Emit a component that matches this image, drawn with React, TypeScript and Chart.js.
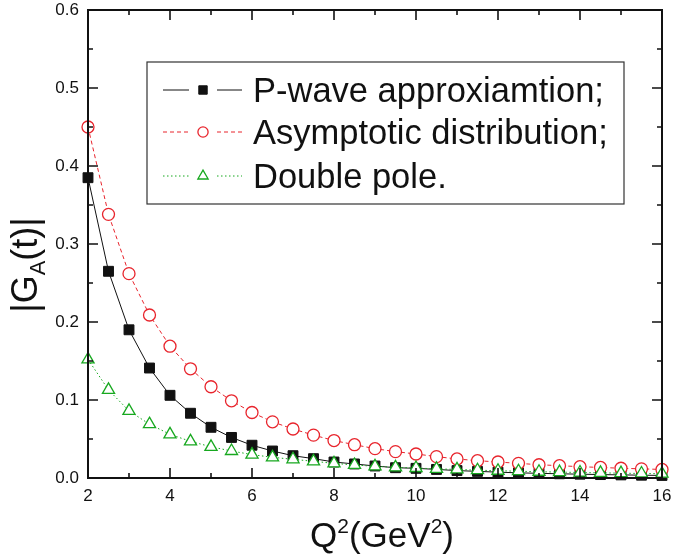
import React, { useEffect, useRef } from "react";
import { Chart, registerables } from "chart.js";

Chart.register(...registerables);

// Q^2 values (GeV^2)
const q2Values = [2, 2.5, 3, 3.5, 4, 4.5, 5, 5.5, 6, 6.5, 7, 7.5, 8, 8.5, 9, 9.5, 10, 10.5, 11, 11.5, 12, 12.5, 13, 13.5, 14, 14.5, 15, 15.5, 16];

// |G_A(t)| for each model
const pWave = [0.385, 0.265, 0.19, 0.141, 0.106, 0.083, 0.065, 0.052, 0.042, 0.0346, 0.0286, 0.0248, 0.0205, 0.018, 0.0154, 0.0132, 0.0124, 0.011, 0.0095, 0.0085, 0.0075, 0.0066, 0.006, 0.0054, 0.0049, 0.0044, 0.004, 0.0036, 0.0033];
const asymptotic = [0.45, 0.338, 0.262, 0.209, 0.169, 0.14, 0.117, 0.099, 0.084, 0.072, 0.0628, 0.055, 0.048, 0.0427, 0.0376, 0.0338, 0.0308, 0.0274, 0.0244, 0.0222, 0.0205, 0.0188, 0.017, 0.0158, 0.0145, 0.0135, 0.0125, 0.0117, 0.011];
const doublePole = [0.152, 0.113, 0.086, 0.069, 0.056, 0.047, 0.04, 0.0346, 0.03, 0.0265, 0.024, 0.0214, 0.0188, 0.0167, 0.015, 0.0137, 0.0128, 0.0117, 0.011, 0.01, 0.0093, 0.0087, 0.008, 0.0076, 0.007, 0.0066, 0.0062, 0.0058, 0.0055];

const seriesLabels = ["P-wave approxiamtion;", "Asymptotic distribution;", "Double pole."];

const xMin = 2;
const xMax = 16;
const xStep = 2;
const yMin = 0;
const yMax = 0.6;
const yStep = 0.1;

const FONT = '"Liberation Sans", Arial, Helvetica, sans-serif';
const BLACK = "#111111";
const RED = "#e8242c";
const GREEN = "#17a81f";

const toPoints = (ys: number[]) => q2Values.map((x, i) => ({ x, y: ys[i] }));

// Frame around the plot with inward major/minor ticks on all four sides
const framePlugin = {
  id: "frameTicks",
  afterDatasetsDraw(chart: any) {
    const { ctx, chartArea: a, scales } = chart;
    const xs = scales.x;
    const ys = scales.y;
    ctx.save();
    ctx.strokeStyle = "#111";
    ctx.lineWidth = 1.6;
    const major = 10;
    const minor = 5;
    ctx.beginPath();
    const xt = xs.ticks.map((t: any) => t.value);
    xt.forEach((v: number, i: number) => {
      const px = xs.getPixelForValue(v);
      ctx.moveTo(px, a.bottom);
      ctx.lineTo(px, a.bottom - major);
      ctx.moveTo(px, a.top);
      ctx.lineTo(px, a.top + major);
      if (i < xt.length - 1) {
        const mp = xs.getPixelForValue((v + xt[i + 1]) / 2);
        ctx.moveTo(mp, a.bottom);
        ctx.lineTo(mp, a.bottom - minor);
        ctx.moveTo(mp, a.top);
        ctx.lineTo(mp, a.top + minor);
      }
    });
    const yt = ys.ticks.map((t: any) => t.value);
    yt.forEach((v: number, i: number) => {
      const py = ys.getPixelForValue(v);
      ctx.moveTo(a.left, py);
      ctx.lineTo(a.left + major, py);
      ctx.moveTo(a.right, py);
      ctx.lineTo(a.right - major, py);
      if (i < yt.length - 1) {
        const mp = ys.getPixelForValue((v + yt[i + 1]) / 2);
        ctx.moveTo(a.left, mp);
        ctx.lineTo(a.left + minor, mp);
        ctx.moveTo(a.right, mp);
        ctx.lineTo(a.right - minor, mp);
      }
    });
    ctx.stroke();
    ctx.lineWidth = 2;
    ctx.strokeRect(a.left, a.top, a.right - a.left, a.bottom - a.top);
    ctx.restore();
  },
};

// Axis titles with sub/superscripts
const titlePlugin = {
  id: "axisTitles",
  afterDraw(chart: any) {
    const { ctx, chartArea: a } = chart;
    ctx.save();
    ctx.fillStyle = "#111";
    ctx.textBaseline = "alphabetic";

    // x title: Q^2(GeV^2)
    const big = 35;
    const small = 21;
    const parts: [string, number, number][] = [
      ["Q", big, 0],
      ["2", small, -14],
      ["(GeV", big, 0],
      ["2", small, -14],
      [")", big, 0],
    ];
    let total = 0;
    parts.forEach(([t, s]) => {
      ctx.font = `${s}px ${FONT}`;
      total += ctx.measureText(t).width;
    });
    let x = 382 - total / 2;
    const baseY = 547;
    parts.forEach(([t, s, dy]) => {
      ctx.font = `${s}px ${FONT}`;
      ctx.fillText(t, x, baseY + dy);
      x += ctx.measureText(t).width;
    });

    // y title: |G_A(t)|
    const yb = 36;
    const ys = 22;
    const yparts: [string, number, number][] = [
      ["|G", yb, 0],
      ["A", ys, 8],
      ["(t)|", yb, 0],
    ];
    let ytotal = 0;
    yparts.forEach(([t, s]) => {
      ctx.font = `${s}px ${FONT}`;
      ytotal += ctx.measureText(t).width;
    });
    ctx.translate(37, 265);
    ctx.rotate(-Math.PI / 2);
    let yx = -ytotal / 2;
    yparts.forEach(([t, s, dy]) => {
      ctx.font = `${s}px ${FONT}`;
      ctx.fillText(t, yx, dy);
      yx += ctx.measureText(t).width;
    });
    ctx.restore();
  },
};

function drawMarker(ctx: CanvasRenderingContext2D, style: string, x: number, y: number, r: number) {
  ctx.beginPath();
  if (style === "rect") {
    const s = r * Math.SQRT1_2;
    ctx.rect(x - s, y - s, 2 * s, 2 * s);
  } else if (style === "triangle") {
    for (let k = 0; k < 3; k++) {
      const ang = (k * 2 * Math.PI) / 3;
      const px = x + Math.sin(ang) * r;
      const py = y - Math.cos(ang) * r;
      if (k === 0) ctx.moveTo(px, py);
      else ctx.lineTo(px, py);
    }
    ctx.closePath();
  } else {
    ctx.arc(x, y, r, 0, Math.PI * 2);
  }
  ctx.fill();
  ctx.stroke();
}

// Boxed legend inside the plot area
const legendPlugin = {
  id: "boxLegend",
  afterDraw(chart: any) {
    const { ctx } = chart;
    const box = { l: 147, t: 62, r: 624, b: 204 };
    ctx.save();
    ctx.fillStyle = "#fff";
    ctx.fillRect(box.l, box.t, box.r - box.l, box.b - box.t);
    ctx.strokeStyle = "#333";
    ctx.lineWidth = 1.2;
    ctx.strokeRect(box.l, box.t, box.r - box.l, box.b - box.t);

    const rows = [90, 132, 176];
    const x0 = 163;
    const x1 = 242;
    const mx = 203;
    chart.data.datasets.forEach((ds: any) => {
      const row = ds.legendRow;
      const y = rows[row];
      ctx.strokeStyle = ds.borderColor;
      ctx.lineWidth = 1;
      ctx.setLineDash(ds.borderDash || []);
      ctx.beginPath();
      ctx.moveTo(x0, y);
      ctx.lineTo(mx - 14, y);
      ctx.moveTo(mx + 14, y);
      ctx.lineTo(x1, y);
      ctx.stroke();
      ctx.setLineDash([]);
      ctx.fillStyle = ds.pointBackgroundColor;
      ctx.strokeStyle = ds.pointBorderColor;
      ctx.lineWidth = ds.pointBorderWidth;
      drawMarker(ctx, ds.pointStyle, mx, y, ds.pointRadius * 0.85);
      ctx.fillStyle = "#111";
      ctx.font = `34.5px ${FONT}`;
      ctx.textBaseline = "middle";
      ctx.fillText(seriesLabels[row], 253, y + 2);
    });
    ctx.restore();
  },
};

export default function App() {
  const canvasRef = useRef<HTMLCanvasElement>(null);

  useEffect(() => {
    if (!canvasRef.current) return;
    const chart = new Chart(canvasRef.current, {
      type: "scatter",
      data: {
        datasets: [
          {
            label: seriesLabels[2],
            legendRow: 2,
            order: 0,
            data: toPoints(doublePole),
            showLine: true,
            borderColor: GREEN,
            borderWidth: 1,
            borderDash: [1.5, 2.5],
            pointStyle: "triangle",
            pointRadius: 7,
            pointBorderWidth: 1.3,
            pointBackgroundColor: "#fff",
            pointBorderColor: GREEN,
            clip: false,
          },
          {
            label: seriesLabels[1],
            legendRow: 1,
            order: 1,
            data: toPoints(asymptotic),
            showLine: true,
            borderColor: RED,
            borderWidth: 1,
            borderDash: [4, 3],
            pointStyle: "circle",
            pointRadius: 6,
            pointBorderWidth: 1.3,
            pointBackgroundColor: "#fff",
            pointBorderColor: RED,
            clip: false,
          },
          {
            label: seriesLabels[0],
            legendRow: 0,
            order: 2,
            data: toPoints(pWave),
            showLine: true,
            borderColor: BLACK,
            borderWidth: 1,
            borderDash: [],
            pointStyle: "rect",
            pointRadius: 7,
            pointBorderWidth: 1,
            pointBackgroundColor: BLACK,
            pointBorderColor: BLACK,
            clip: false,
          },
        ] as any,
      },
      options: {
        animation: false,
        responsive: true,
        maintainAspectRatio: false,
        layout: { padding: { top: 10, right: 11, left: 0, bottom: 0 } },
        plugins: {
          legend: { display: false },
          tooltip: { enabled: false },
        },
        scales: {
          x: {
            type: "linear",
            min: xMin,
            max: xMax,
            ticks: {
              stepSize: xStep,
              padding: 8,
              color: "#111",
              font: { family: FONT, size: 17 },
              callback: (v: any) => String(v),
            },
            grid: { display: false, drawTicks: false },
            border: { display: false },
            afterFit: (s: any) => {
              s.height = 82;
              s.paddingLeft = 0;
              s.paddingRight = 0;
            },
          },
          y: {
            type: "linear",
            min: yMin,
            max: yMax,
            ticks: {
              stepSize: yStep,
              padding: 9,
              color: "#111",
              font: { family: FONT, size: 17 },
              callback: (v: any) => Number(v).toFixed(1),
            },
            grid: { display: false, drawTicks: false },
            border: { display: false },
            afterFit: (s: any) => {
              s.width = 88;
              s.paddingTop = 0;
              s.paddingBottom = 0;
            },
          },
        },
      },
      plugins: [framePlugin, titlePlugin, legendPlugin],
    } as any);
    return () => chart.destroy();
  }, []);

  return (
    <div style={{ position: "fixed", left: 0, top: 0, width: 673, height: 560, background: "#fff" }}>
      <canvas ref={canvasRef} />
    </div>
  );
}
